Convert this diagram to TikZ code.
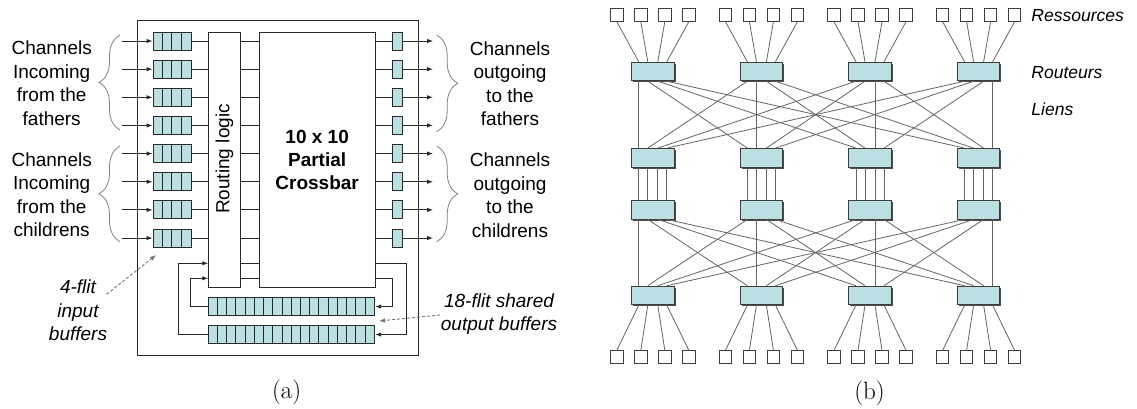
\documentclass[tikz,border=0pt]{standalone}
\usepackage{fontspec}
\setsansfont{Liberation Sans}
\usetikzlibrary{arrows.meta,decorations.pathreplacing,shadows}
\definecolor{bufcol}{RGB}{186,224,228}
\definecolor{linecol}{RGB}{40,40,40}
\definecolor{linkcol}{RGB}{100,100,100}
\begin{document}
\begin{tikzpicture}[x=1pt,y=-1pt,line width=0.9pt,draw=linecol,
  txt/.style={font=\sffamily\fontsize{19}{23.5}\selectfont,align=center,inner sep=0pt},
  note/.style={font=\sffamily\itshape\fontsize{19}{23.5}\selectfont,align=center,inner sep=0pt},
  lab/.style={font=\sffamily\itshape\fontsize{17.5}{21}\selectfont,anchor=west,inner sep=0pt},
  capt/.style={font=\rmfamily\fontsize{25}{30}\selectfont,inner sep=0pt},
  blk/.style={draw,fill=white,inner sep=0pt},
  buf/.style={draw,fill=bufcol,minimum height=18pt,inner sep=0pt},
  arr/.style={-{Latex[length=6pt,width=4.5pt]}},
  dasharr/.style={-{Latex[length=6pt,width=4.5pt]},draw=gray!90!black,dash pattern=on 3pt off 2pt},
  grp/.style={draw=gray,line width=0.8pt,decorate,decoration={brace,amplitude=21pt}},
  router/.style={draw=linecol!90,fill=bufcol,minimum width=42.5pt,minimum height=18.5pt,inner sep=0pt,
    drop shadow={shadow xshift=1.6pt,shadow yshift=-1.6pt,fill=black!70,opacity=1}},
  res/.style={draw=linecol!90,fill=white,minimum size=12.5pt,inner sep=0pt},
  link/.style={draw=linkcol,line width=0.8pt}]
\useasboundingbox (0,0) rectangle (1137,408);

% (a) router: outer box
\node[draw,minimum width=280.6pt,minimum height=335.7pt,inner sep=0pt] (chip) at (278,187.85) {};
% Routing logic and crossbar
\node[blk,minimum width=31.3pt,minimum height=255.4pt] (rout) at (224.35,160) {};
\node[txt,rotate=90] (routtxt) at (224.35,159) {Routing logic};
\node[blk,minimum width=115.7pt,minimum height=255.4pt] (xbar) at (317.15,160) {};
\node[txt,font=\sffamily\bfseries\fontsize{19}{23}\selectfont] (xbartxt) at (317.15,159.5) {10 x 10\\Partial\\Crossbar};

% Input and output channels
\foreach \i in {1,...,8} {
  \pgfmathsetmacro{\yy}{41+28.15*(\i-1)}
  \coordinate (src\i) at (121.7,\yy);
  \coordinate (dst\i) at (433,\yy);
  \node[buf,minimum width=38pt] (in\i) at (172,\yy) {};
  \foreach \c in {1,2,3}
    \draw ([xshift={9.5*\c}]in\i.north west) -- ([xshift={9.5*\c}]in\i.south west);
  \node[buf,minimum width=10pt] (out\i) at (397.7,\yy) {};
  \draw[arr] (src\i) -- (in\i.west);
  \draw (in\i.east) -- (rout.west |- in\i.east);
  \draw (rout.east |- in\i.east) -- (xbar.west |- in\i.east);
  \draw (xbar.east |- out\i.west) -- (out\i.west);
  \draw[arr] (out\i.east) -- (dst\i);
}

% Shared output buffers
\node[buf,minimum width=166pt,minimum height=18.4pt] (sb1) at (291.7,306.5) {};
\node[buf,minimum width=166pt,minimum height=18.4pt] (sb2) at (291.7,334.5) {};
\foreach \b in {sb1,sb2}
  \foreach \c in {1,...,17}
    \draw ([xshift={166/18*\c}]\b.north west) -- ([xshift={166/18*\c}]\b.south west);

% Feedback loops
\coordinate (fa) at (0,263.3);
\coordinate (fb) at (0,278.3);
\draw (rout.east |- fa) -- (xbar.west |- fa);
\draw (rout.east |- fb) -- (xbar.west |- fb);
\draw[arr] (xbar.east |- fa) -- ++(30.6,0) |- (sb2.east);
\draw[arr] (xbar.east |- fb) -- ++(17.2,0) |- (sb1.east);
\draw[arr] (sb1.west) -- ++(-18,0) |- (rout.west |- fb);
\draw[arr] (sb2.west) -- ++(-30,0) |- (rout.west |- fa);

% Braces and channel labels
\draw[grp] (120,130) -- (120,35);
\draw[grp] (120,241.7) -- (120,146);
\draw[grp] (436.7,35) -- (436.7,131.7);
\draw[grp] (436.7,146) -- (436.7,241.7);
\node[txt] (infa) at (51.7,83) {Channels\\Incoming\\from the\\fathers};
\node[txt] (inch) at (51.7,194.7) {Channels\\Incoming\\from the\\childrens};
\node[txt] (outfa) at (510,83.7) {Channels\\outgoing\\to the\\fathers};
\node[txt] (outch) at (510,195) {Channels\\outgoing\\to the\\childrens};

% Buffer notes
\node[note] (inbuf) at (78,310.5) {4-flit\\input\\buffers};
\node[note] (outbuf) at (499,314) {18-flit shared\\output buffers};
\coordinate (p1) at (106.7,294.3);
\coordinate (p2) at (156,255);
\coordinate (q1) at (440,315);
\coordinate (q2) at (379,321);
\draw[dasharr] (p1) -- (p2);
\draw[dasharr] (q1) -- (q2);

% (b) network: routers and resources
\foreach \r/\yr in {1/71.5,2/157.8,3/209.7,4/295.4}
  \foreach \i/\xr in {1/652.8,2/761.4,3/870,4/978.6}
    \node[router] (r\r\i) at (\xr,\yr) {};
\foreach \i/\xr in {1/652.8,2/761.4,3/870,4/978.6}
  \foreach \k/\dx/\ok in {1/-36/-14,2/-12/-5,3/12/5,4/36/14} {
    \node[res] (top\i\k) at (\xr+\dx,15) {};
    \node[res] (bot\i\k) at (\xr+\dx,357) {};
    \draw[link] (top\i\k.south) -- ([xshift=\ok]r1\i.north);
    \draw[link] (bot\i\k.north) -- ([xshift=\ok]r4\i.south);
    \draw[link] ([xshift=\ok]r2\i.south) -- ([xshift=\ok]r3\i.north);
  }
% Links between levels
\foreach \i/\oi in {1/-14,2/-5,3/5,4/14}
  \foreach \k/\ok in {1/-14,2/-5,3/5,4/14} {
    \draw[link] ([xshift=\ok]r1\i.south) -- ([xshift=\oi]r2\k.north);
    \draw[link] ([xshift=\ok]r3\i.south) -- ([xshift=\oi]r4\k.north);
  }
\node[lab] (lres) at (1031,15.4) {Ressources};
\node[lab] (lrout) at (1031,73) {Routeurs};
\node[lab] (llien) at (1031,109) {Liens};

% Captions
\node[capt] (capa) at (286.7,392) {(a)};
\node[capt] (capb) at (869.5,393) {(b)};
\end{tikzpicture}
\end{document}
